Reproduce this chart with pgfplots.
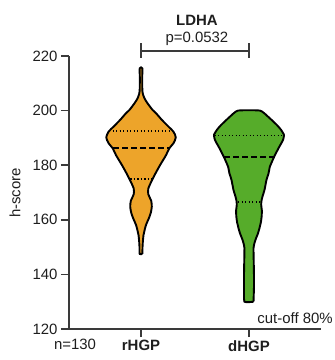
\documentclass[border=0pt]{standalone}
\usepackage{pgfplots}
\pgfplotsset{compat=1.18}
\usepackage{fontspec}
\setmainfont{Liberation Sans}
\definecolor{vorange}{HTML}{EDA42A}
\definecolor{vgreen}{HTML}{56AC2A}
\definecolor{axgray}{HTML}{3A3A3A}
\definecolor{txt}{HTML}{1E1E1E}
\begin{document}
\begin{tikzpicture}[font=\fontsize{15}{18}\selectfont]
\useasboundingbox (-69bp,-31bp) rectangle (266bp,329bp);
\begin{axis}[
  at={(0,0)}, anchor=south west,
  scale only axis, width=252bp, height=273bp,
  xmin=0.333, xmax=2.667, ymin=120, ymax=220,
  axis x line*=bottom, axis y line*=left,
  axis line style={axgray, line width=1.7bp},
  tick style={axgray, line width=1.7bp},
  tick align=outside, major tick length=8bp,
  xtick={1,2}, xticklabels={\textbf{rHGP},\textbf{dHGP}},
  ytick={120,140,...,220},
  /pgf/number format/assume math mode=true,
  tick label style={text=txt},
  clip=false,
]
% orange violin
\addplot[fill=vorange, draw=black, line width=1.9bp, smooth, tension=0.45] coordinates {
(1.012,147.5) (1.014,150) (1.017,152) (1.023,154.4) (1.032,156) (1.046,158.1) (1.072,160.5) (1.090,162.5) (1.100,164.8) (1.094,167) (1.068,169.3) (1.068,171.5) (1.108,175) (1.134,177) (1.176,180) (1.232,183.7) (1.262,186.2) (1.300,188) (1.322,190.2) (1.300,192.3) (1.255,194.1) (1.193,196.6) (1.140,199) (1.108,200.2) (1.060,202.7) (1.032,204.5) (1.016,206.3) (1.012,208) (1.011,212) (1.012,215.5)
(0.988,215.5) (0.989,212) (0.988,208) (0.984,206.3) (0.968,204.5) (0.940,202.7) (0.892,200.2) (0.860,199) (0.807,196.6) (0.745,194.1) (0.700,192.3) (0.678,190.2) (0.700,188) (0.738,186.2) (0.768,183.7) (0.824,180) (0.866,177) (0.892,175) (0.932,171.5) (0.932,169.3) (0.906,167) (0.900,164.8) (0.910,162.5) (0.928,160.5) (0.954,158.1) (0.968,156) (0.977,154.4) (0.983,152) (0.986,150) (0.988,147.5) (1.012,147.5)
};
% green violin
\addplot[fill=vgreen, draw=black, line width=1.9bp, smooth, tension=0.3] coordinates {
(2.042,130) (2.046,135) (2.046,140) (2.044,144.7) (2.042,149.6) (2.051,151.5) (2.065,153.2) (2.083,155) (2.097,156.9) (2.111,159.3) (2.118,161.5) (2.119,163.5) (2.113,165.5) (2.116,167) (2.125,168.5) (2.144,171) (2.162,174.6) (2.181,177) (2.194,179.5) (2.231,182.9) (2.273,186.2) (2.315,189.2) (2.324,191.1) (2.296,193) (2.259,194.7) (2.176,197.8) (2.102,200)
(1.898,200) (1.824,197.8) (1.741,194.7) (1.704,193) (1.676,191.1) (1.685,189.2) (1.727,186.2) (1.769,182.9) (1.806,179.5) (1.819,177) (1.838,174.6) (1.856,171) (1.875,168.5) (1.884,167) (1.887,165.5) (1.881,163.5) (1.882,161.5) (1.889,159.3) (1.903,156.9) (1.917,155) (1.935,153.2) (1.949,151.5) (1.958,149.6) (1.956,144.7) (1.954,140) (1.954,135) (1.958,130) (2.042,130)
};
% quartiles and medians
\addplot[black, line width=1.5bp, dash pattern=on 1.3bp off 2.2bp] coordinates {(0.705,192.5) (1.295,192.5)};
\addplot[black, line width=1.9bp, dash pattern=on 6bp off 3bp] coordinates {(0.745,186.2) (1.255,186.2)};
\addplot[black, line width=1.5bp, dash pattern=on 1.3bp off 2.2bp] coordinates {(0.900,175) (1.100,175)};
\addplot[black, line width=1.5bp, dash pattern=on 1.3bp off 2.2bp] coordinates {(1.682,190.8) (2.318,190.8)};
\addplot[black, line width=1.9bp, dash pattern=on 6bp off 3bp] coordinates {(1.772,183.1) (2.228,183.1)};
\addplot[black, line width=1.5bp, dash pattern=on 1.3bp off 2.2bp] coordinates {(1.900,166.6) (2.100,166.6)};
% bracket
\draw[axgray, line width=1.6bp] (axis cs:1,221.9) -- (axis cs:2,221.9);
\draw[axgray, line width=1.6bp] (axis cs:1,219.3) -- (axis cs:1,224.8);
\draw[axgray, line width=1.6bp] (axis cs:2,219.3) -- (axis cs:2,224.8);
\node[txt] at (axis cs:1.518,226.4) {p=0.0532};
\node[txt, font=\fontsize{15}{18}\selectfont\bfseries] at (axis cs:1.518,233.2) {LDHA};
\node[txt] at (axis cs:0.389,114.3) {n=130};
\node[txt, anchor=east, inner sep=0pt] at (axis cs:2.778,123.8) {cut-off 80\%};
\node[txt, rotate=90] at (axis cs:-0.167,169.8) {h-score};
\end{axis}
\end{tikzpicture}
\end{document}
